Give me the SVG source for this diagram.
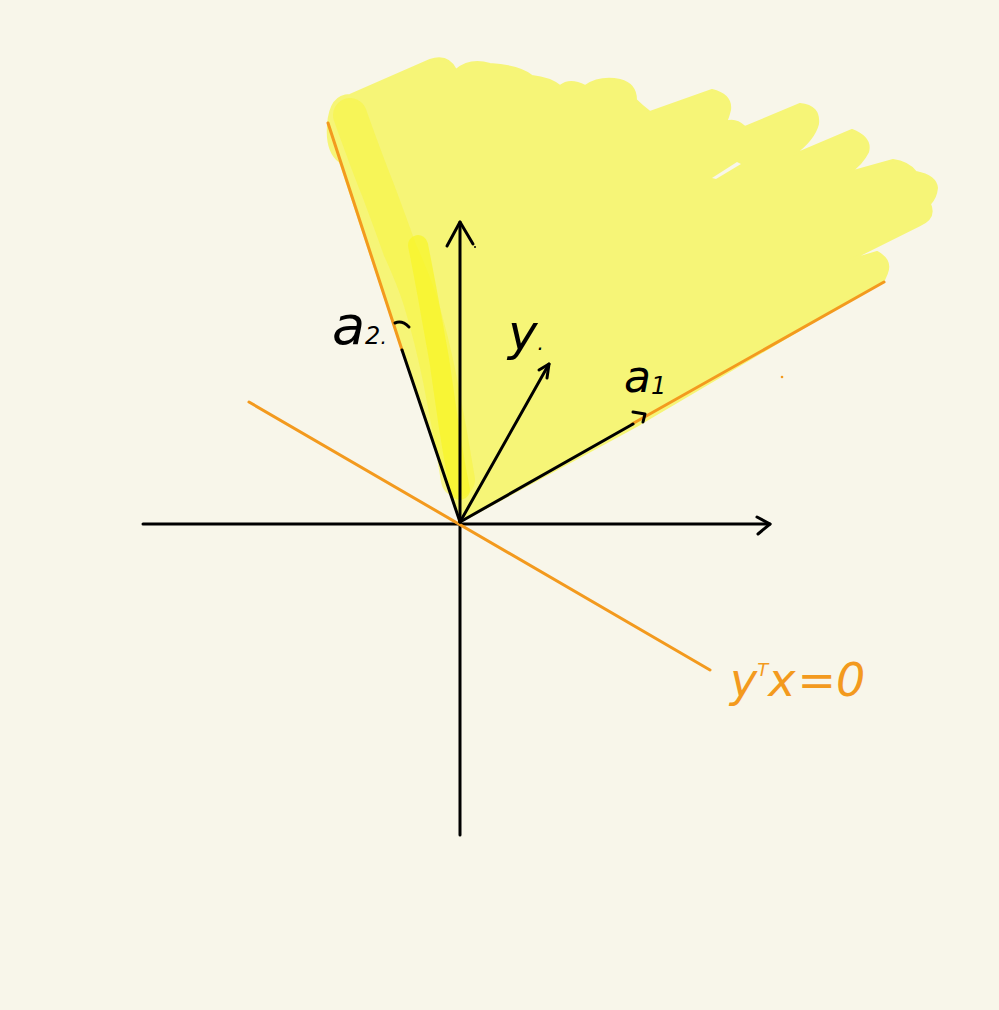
<svg xmlns="http://www.w3.org/2000/svg" width="999" height="1010" viewBox="0 0 999 1010">
<style>
.ink{stroke:#000;stroke-width:3;fill:none;stroke-linecap:round;stroke-linejoin:round}
.or{stroke:#f39a1e;stroke-width:3;fill:none;stroke-linecap:round}
.lbl{font-family:"DejaVu Sans",sans-serif;font-style:italic;fill:#000}
.olbl{font-family:"DejaVu Sans",sans-serif;font-style:italic;fill:#f39a1e}
</style>
<rect width="999" height="1010" fill="#f8f6ea"/>
<g id="cone">
<path d="M460,522 L402,350 L340,162 Q326,152 328,125 Q330,95 350,95 L430,60 Q448,54 456,70 Q470,58 490,64 Q520,66 532,76 Q550,78 560,86 Q570,78 585,86 Q600,76 620,80 Q636,84 636,100 Q642,106 650,112 L712,90 Q732,95 730,110 Q728,118 726,122 Q735,118 745,127 L800,104 Q820,106 818,124 Q814,140 793,155 L852,130 Q872,138 868,152 Q862,164 850,172 L893,160 Q908,162 916,172 Q936,176 937,188 Q936,198 930,204 Q936,218 920,225 L850,260 L877,252 Q892,260 887,273 L884,280 L640,424 Z" fill="#f6f577" stroke="#f6f577" stroke-width="2" stroke-linejoin="round"/>
<path d="M712,178 L737,162 L741,164 L716,179 Z" fill="#f8f6ea"/>
<path d="M350,115 Q366,160 378,190 Q390,222 400,250 Q412,276 420,300 Q432,340 440,380 Q450,430 458,480" fill="none" stroke="#f7f440" stroke-width="34" stroke-linecap="round" opacity="0.55"/>
<path d="M418,245 Q426,285 432,320 Q440,360 445,400 Q452,450 460,490" fill="none" stroke="#f8f526" stroke-width="20" stroke-linecap="round" opacity="0.7"/>
</g>
<g id="connectors">
<line class="ink" x1="143" y1="524" x2="770" y2="524"/>
<polyline class="ink" points="757,517 770,524 758,534"/>
<line class="ink" x1="460" y1="835" x2="460" y2="222"/>
<polyline class="ink" points="447,246 460,222 473,244"/>
<line class="or" x1="249" y1="402" x2="710" y2="670"/>
<line class="or" x1="402" y1="350" x2="328" y2="123"/>
<line class="ink" x1="460" y1="522" x2="402" y2="350"/>
<path class="ink" d="M395,323 Q402,320 409,327"/>
<line class="or" x1="632" y1="424" x2="884" y2="282"/>
<line class="ink" x1="460" y1="522" x2="633" y2="424"/>
<path class="ink" d="M633,412 L645,414 L643,422"/>
<line class="ink" x1="460" y1="522" x2="549" y2="364"/>
<polyline class="ink" points="539,370 549,364 547,378"/>
<circle cx="475" cy="247" r="1" fill="#000"/>
<circle cx="782" cy="377" r="1.3" fill="#f39a1e"/>
</g>
<g id="labels">
<text class="lbl" x="332" y="344" font-size="54">a<tspan font-size="24" dy="0">2</tspan><tspan font-size="20">.</tspan></text>
<text class="lbl" x="508" y="350" font-size="50">y<tspan font-size="20">.</tspan></text>
<text class="lbl" x="624" y="392" font-size="44">a<tspan font-size="24" dy="2">1</tspan></text>
<text class="olbl" x="730" y="696" font-size="46">y<tspan font-size="18" dy="-20">T</tspan><tspan dy="20">x</tspan><tspan dx="2">=</tspan><tspan>0</tspan></text>
</g>
</svg>
